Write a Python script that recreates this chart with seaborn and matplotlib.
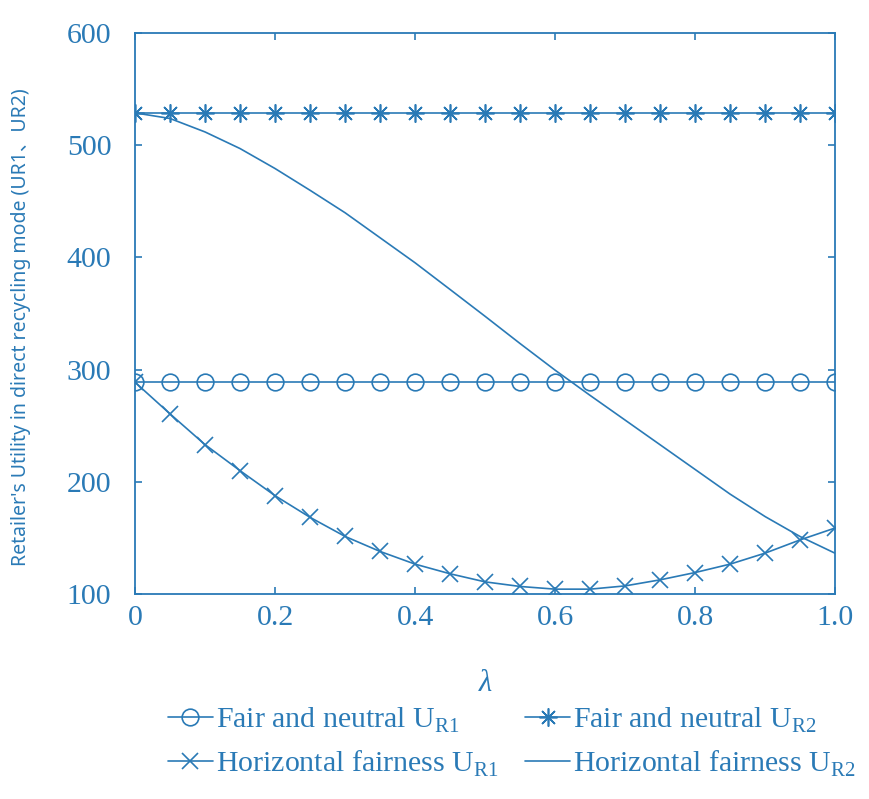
import numpy as np
import pandas as pd
import matplotlib
matplotlib.use("Agg")
import matplotlib.pyplot as plt
import seaborn as sns

# data
lam = [0.00, 0.05, 0.10, 0.15, 0.20, 0.25, 0.30, 0.35, 0.40, 0.45, 0.50,
       0.55, 0.60, 0.65, 0.70, 0.75, 0.80, 0.85, 0.90, 0.95, 1.00]
fair_ur1 = [288.5] * 21
fair_ur2 = [528.5] * 21
horiz_ur1 = [288.7, 260.5, 233.1, 209.9, 187.6, 168.3, 151.3, 137.9, 126.6, 118.0, 110.8,
             106.7, 104.3, 104.3, 107.2, 112.6, 119.1, 126.6, 136.4, 148.2, 158.8]
horiz_ur2 = [528.8, 523.8, 511.8, 497.0, 479.2, 459.8, 439.8, 417.5, 395.2, 371.4, 347.5,
             323.2, 299.5, 277.0, 255.0, 233.0, 211.0, 189.0, 169.0, 151.2, 136.3]

labels = [r"Fair and neutral U$_\mathregular{R1}$",
          r"Fair and neutral U$_\mathregular{R2}$",
          r"Horizontal fairness U$_\mathregular{R1}$",
          r"Horizontal fairness U$_\mathregular{R2}$"]

sns.set_style("ticks")
plt.rcParams['font.family'] = ['Liberation Serif', 'DejaVu Serif']
plt.rcParams['mathtext.fontset'] = 'custom'
plt.rcParams['mathtext.rm'] = 'Liberation Serif'

blue = "#2a7ab6"

fig = plt.figure(figsize=(8.69, 7.99), dpi=100)
ax = fig.add_axes([0.1554, 0.2566, 0.8056, 0.7021])

sns.lineplot(x=lam, y=fair_ur1, ax=ax, color=blue, lw=1.2, marker='o', markersize=12,
             fillstyle='none', markeredgewidth=1.2, markeredgecolor=blue, label=labels[0])
sns.lineplot(x=lam, y=fair_ur2, ax=ax, color=blue, lw=1.2, marker=(8, 2, 0), markersize=13,
             markeredgewidth=1.2, markeredgecolor=blue, label=labels[1])
sns.lineplot(x=lam, y=horiz_ur1, ax=ax, color=blue, lw=1.2, marker='x', markersize=11,
             markeredgewidth=1.2, markeredgecolor=blue, label=labels[2])
sns.lineplot(x=lam, y=horiz_ur2, ax=ax, color=blue, lw=1.2, label=labels[3])

ax.set_xlim(0, 1)
ax.set_ylim(100, 600)
ax.set_xticks([0, 0.2, 0.4, 0.6, 0.8, 1.0])
ax.set_xticklabels(["0", "0.2", "0.4", "0.6", "0.8", "1.0"])
ax.set_yticks([100, 200, 300, 400, 500, 600])
ax.tick_params(direction='in', length=5, width=1.2, colors=blue, labelsize=21.5,
               top=True, right=True)
ax.tick_params(axis='y', pad=17)
ax.tick_params(axis='x', pad=8)
for s in ax.spines.values():
    s.set_color(blue)
    s.set_linewidth(1.3)

ax.set_xlabel("λ", fontsize=22, color=blue, style='italic')
ax.xaxis.set_label_coords(0.5, -0.133)
ax.set_ylabel("")
fig.text(21 / 869, 1 - 327 / 799, "Retailer's Utility in direct recycling mode (UR1、UR2)",
         rotation=90, ha='center', va='center', fontsize=14, color=blue,
         family=['Noto Sans', 'Noto Sans CJK SC'])

handles, labs = ax.get_legend_handles_labels()
ax.get_legend().remove()
order = [0, 2, 1, 3]
leg = fig.legend([handles[i] for i in order], [labs[i] for i in order],
                 loc='lower center', bbox_to_anchor=(0.589, -0.008), ncol=2,
                 frameon=False, fontsize=21.5, handlelength=1.5, columnspacing=0.9,
                 handletextpad=0.1, labelspacing=0.45)
for t in leg.get_texts():
    t.set_color(blue)

fig.savefig("out.png", dpi=100)
